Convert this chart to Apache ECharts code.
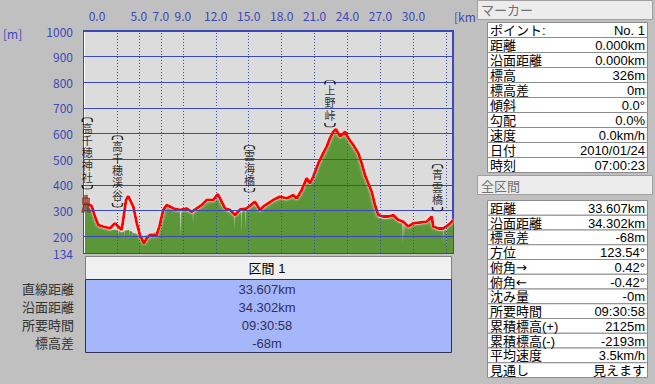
<!DOCTYPE html>
<html><head><meta charset="utf-8">
<script src="https://cdn.jsdelivr.net/npm/echarts@6/dist/echarts.min.js"></script>
<style>html,body{margin:0;padding:0;background:#c0c0c0}#c{width:655px;height:384px}</style>
</head><body><div id="c"></div>
<script>
// GPS track elevation (red line)
const trackKm = [0.00,0.27,0.70,1.00,1.30,1.76,2.37,2.82,3.12,3.43,3.83,4.03,4.49,4.80,5.10,5.46,5.71,6.01,6.62,6.86,7.22,7.53,7.83,8.13,8.74,9.35,9.81,10.26,10.72,11.17,11.78,12.18,12.39,12.84,13.30,13.75,14.21,14.82,15.57,16.03,16.33,17.24,17.85,18.46,19.06,19.37,19.83,20.28,20.58,20.88,21.34,21.79,22.10,22.40,22.71,22.95,23.32,23.77,24.07,24.53,24.98,25.29,25.59,25.89,26.20,26.50,26.80,27.26,27.71,28.17,28.62,29.08,29.54,29.99,30.60,31.21,31.67,31.81,32.27,32.72,33.18,33.49,33.607];
const trackElev = [326,326,318,276,243,237,230,250,237,224,341,356,315,251,204,172,191,204,204,237,302,321,315,308,302,308,295,308,321,341,341,364,347,308,302,282,304,308,334,302,315,341,354,347,360,347,380,426,406,432,484,523,549,582,607,617,588,607,582,555,523,484,438,406,373,321,282,276,276,282,263,256,237,250,253,256,276,237,230,230,243,256,262];
// DEM terrain profile (green area)
const terrainKm = [0.00,0.27,0.70,1.00,1.30,1.76,2.37,2.82,3.10,3.12,3.14,3.43,3.70,3.72,3.74,3.83,4.03,4.10,4.12,4.14,4.40,4.42,4.44,4.49,4.80,5.10,5.46,5.71,6.01,6.30,6.62,6.86,7.22,7.53,7.83,8.13,8.74,8.80,8.83,8.86,9.35,9.81,9.90,9.93,9.96,10.26,10.72,11.17,11.78,12.18,12.39,12.84,13.30,13.70,13.73,13.76,14.21,14.30,14.33,14.36,14.66,14.69,14.72,14.82,15.57,16.03,16.33,17.24,17.85,18.46,19.06,19.37,19.83,20.28,20.58,20.88,21.34,21.79,22.10,22.40,22.71,22.95,23.32,23.77,24.07,24.53,24.98,25.29,25.59,25.89,26.20,26.50,26.80,27.26,27.71,28.17,28.62,29.00,29.05,29.10,29.20,29.22,29.24,29.54,29.99,30.60,31.21,31.67,31.81,32.27,32.70,32.72,32.75,33.00,33.02,33.04,33.18,33.49,33.607];
const terrainElev = [322,320,300,262,236,230,222,226,222,196,222,214,220,190,220,222,224,224,188,222,216,186,214,212,208,204,200,204,210,212,218,238,296,314,308,300,296,296,200,296,300,288,290,250,290,300,314,334,334,354,340,300,294,276,226,276,294,296,210,296,300,225,300,300,326,296,308,334,346,340,352,340,372,416,398,424,476,514,540,572,596,606,580,598,572,545,512,470,424,392,360,310,272,268,268,274,254,250,172,250,248,190,248,230,242,246,248,268,230,222,222,172,222,226,146,228,236,250,258];
// axes
const gridKm = [3,5,7,9,12,15,18,21,24,27,30,33];
const xTickLabels = [0,5,7,9,12,15,18,21,24,27,30];
const yTickLabels = [134,200,300,400,500,600,700,800,900,1000];
const yGridLines = [200,300,400,500,600,700,800,900];
// place names
const placeNames = ['高千穂神社','高千穂渓谷','雲海橋','上野峠','青雲橋'];
const placeKm = [0.30,3.05,15.07,22.40,32.20];
const placeLabelElev = [380,310,368,622,294];
// marker panel
const markerLabels = ['ポイント:','距離','沿面距離','標高','標高差','傾斜','勾配','速度','日付','時刻'];
const markerValues = ['No. 1','0.000km','0.000km','326m','0m','0.0°','0.0%','0.0km/h','2010/01/24','07:00:23'];
// whole section panel
const summaryLabels = ['距離','沿面距離','標高差','方位','俯角→','俯角←','沈み量','所要時間','累積標高(+)','累積標高(-)','平均速度','見通し'];
const summaryValues = ['33.607km','34.302km','-68m','123.54°','0.42°','-0.42°','-0m','09:30:58','2125m','-2193m','3.5km/h','見えます'];
// section table
const sectionTitle = '区間 1';
const sectionLabels = ['直線距離','沿面距離','所要時間','標高差'];
const sectionValues = ['33.607km','34.302km','09:30:58','-68m'];

const FONT = '"Noto Sans CJK JP", "Noto Sans", sans-serif';
const TFONT = '"Liberation Sans", "Noto Sans CJK JP", sans-serif';
const AFONT = '"DejaVu Sans", "Noto Sans CJK JP", sans-serif';
const BLUE = '#3c48b8';
const CH = 12.3;   // vertical label line height
const chart = echarts.init(document.getElementById('c'), null, {renderer: 'svg'});

const g = [];
function txt(x, y, text, o) {
  o = o || {};
  g.push({type: 'text', x: x, y: y, z: o.z || 10, silent: true,
    style: {text: text, fill: o.fill || '#000', font: (o.size || 13) + 'px ' + (o.font || TFONT),
      align: o.align || 'left', verticalAlign: 'middle'}});
}
function rect(x, y, w, h, fill, stroke, z) {
  g.push({type: 'rect', silent: true, z: z || 5, shape: {x: x, y: y, width: w, height: h},
    style: {fill: fill, stroke: stroke || null, lineWidth: stroke ? 1 : 0}});
}
// axis names
txt(3, 33, '[m]', {fill: BLUE, size: 12, font: FONT});
txt(454, 16, '[km]', {fill: BLUE, size: 12, z: 1, font: FONT});
// light left edge of the plot frame
g.push({type: 'line', silent: true, z: 3, shape: {x1: 84.5, y1: 32, x2: 84.5, y2: 253},
  style: {stroke: '#ffffff', lineWidth: 1}});
// right panel background
rect(476, 0, 179, 384, '#c0c0c0', null, 4);
rect(477.5, 0.5, 175, 19, '#ececec', '#a0a0a0');
txt(481, 10, 'マーカー', {fill: '#707070'});
for (let i = 0; i < markerLabels.length; i++) {
  const y = 22.5 + 15 * i;
  rect(487.5, y, 160, 15, '#ffffff', '#8c8c8c');
  txt(490, y + 8, markerLabels[i]);
  txt(645, y + 8, markerValues[i], {align: 'right'});
}
rect(477.5, 175.5, 175, 19, '#ececec', '#a0a0a0');
txt(481, 186, '全区間', {fill: '#707070'});
for (let i = 0; i < summaryLabels.length; i++) {
  const y = 200.5 + 14.75 * i;
  rect(487.5, y, 160, 14.75, '#ffffff', '#8c8c8c');
  txt(490, y + 7.8, summaryLabels[i], {font: /[→←]/.test(summaryLabels[i]) ? AFONT : TFONT});
  txt(645, y + 7.8, summaryValues[i], {align: 'right'});
}
// section table under chart
rect(85.5, 256.5, 366, 23, '#f0f0f0', '#808080');
txt(267, 268, sectionTitle, {align: 'center'});
rect(85.5, 279.5, 366, 73, '#a6b6fa', '#303050');
const rowY = [289.5, 307.5, 325.5, 343];
for (let i = 0; i < sectionLabels.length; i++) {
  txt(74, rowY[i], sectionLabels[i], {align: 'right', fill: '#333333'});
  txt(267, rowY[i], sectionValues[i], {align: 'center', fill: '#30305a'});
}

// vertical-text brackets drawn as small arcs around each place label
const openArc = 'path://M0,9 L0,6 Q0,0 6,0 L14,0 Q20,0 20,6 L20,9';
const closeArc = 'path://M0,0 L0,3 Q0,9 6,9 L14,9 Q20,9 20,3 L20,0';
const bracketData = [];
placeNames.forEach((n, i) => {
  const h = Array.from(n).length * CH;
  bracketData.push({value: [placeKm[i], placeLabelElev[i]], symbol: closeArc, symbolOffset: [0, -3]});
  bracketData.push({value: [placeKm[i], placeLabelElev[i]], symbol: openArc, symbolOffset: [0, -(6 + h + 2.5)]});
});

const option = {
  animation: false,
  backgroundColor: '#c0c0c0',
  textStyle: {fontFamily: FONT},
  grid: {left: 84, top: 31, width: 369, height: 222, show: true,
    backgroundColor: '#dcdcdc', borderColor: BLUE, borderWidth: 2},
  xAxis: {type: 'value', position: 'top', min: 0, max: 33.607,
    axisLine: {show: false}, axisTick: {show: false}, splitLine: {show: false},
    axisLabel: {customValues: xTickLabels, margin: 10, color: BLUE, fontSize: 12,
      formatter: v => v === 0 ? '{z|0.0}' : v.toFixed(1),
      rich: {z: {padding: [0, 0, 0, 26], color: BLUE, fontSize: 12}}}},
  yAxis: {type: 'value', min: 134, max: 1000,
    axisLine: {show: false}, axisTick: {show: false}, splitLine: {show: false},
    axisLabel: {customValues: yTickLabels, margin: 11, color: BLUE, fontSize: 12,
      formatter: v => String(v)}},
  graphic: g,
  series: [
    {type: 'line', z: 2, symbol: 'none', silent: true,
      data: terrainKm.map((k, i) => [k, terrainElev[i]]),
      lineStyle: {width: 0}, areaStyle: {color: '#5b9638', opacity: 1}},
    {type: 'line', z: 3, data: [], silent: true,
      markLine: {silent: true, symbol: ['none', 'none'], label: {show: false}, animation: false,
        data: gridKm.map(k => ({xAxis: k, lineStyle: {color: BLUE, width: 1, type: [1, 2]}}))
          .concat(yGridLines.map(v => ({yAxis: v, lineStyle: {color: BLUE, width: 1, type: 'solid'}})))}},
    {type: 'line', z: 4, symbol: 'none', silent: true,
      data: trackKm.map((k, i) => [k, trackElev[i]]),
      lineStyle: {color: '#ff0000', width: 3, shadowColor: 'rgba(255,230,230,0.9)', shadowBlur: 3}},
    {type: 'scatter', z: 5, symbolSize: 0, silent: true,
      data: placeKm.map((k, i) => [k, placeLabelElev[i], placeNames[i]]),
      label: {show: true, position: 'top', distance: 6, color: '#000', fontFamily: TFONT,
        fontSize: 11, lineHeight: CH, align: 'center',
        formatter: p => Array.from(p.value[2]).join('\n')}},
    {type: 'scatter', z: 5, silent: true, symbolSize: [10, 4], data: bracketData,
      itemStyle: {color: 'none', borderColor: '#000', borderWidth: 1}},
    {type: 'scatter', z: 6, silent: true, data: [[trackKm[0], trackElev[0]]],
      symbol: 'path://M4,0 L7,0 L7,3 L4,3 Z M2,3 L9,3 L9,10 L2,10 Z M3,10 L5,10 L4,18 L1,18 Z M6,10 L8,10 L10,18 L7,18 Z',
      symbolSize: [9, 17], symbolOffset: [2, 0], itemStyle: {color: '#a83a28', borderColor: '#503020', borderWidth: 0.5}}
  ]
};
chart.setOption(option);
</script></body></html>
